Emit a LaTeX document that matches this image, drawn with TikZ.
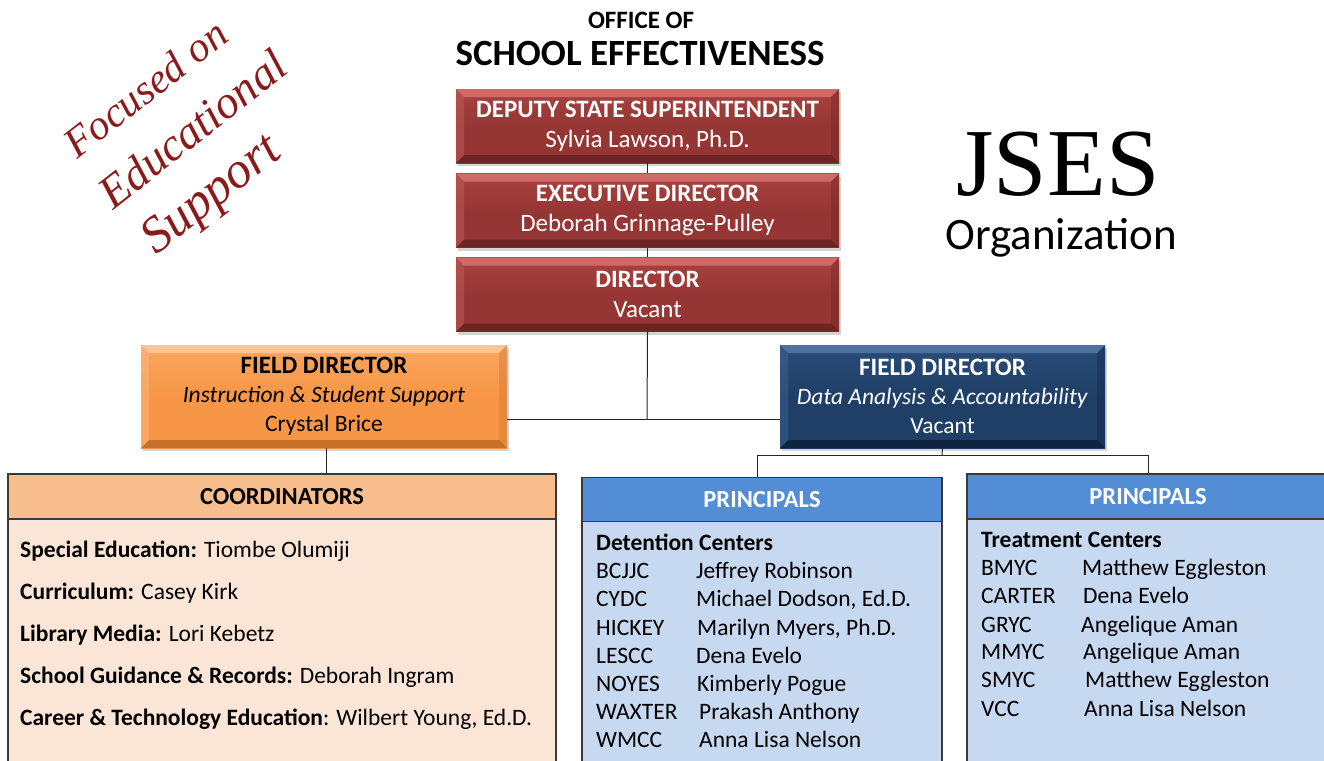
\documentclass[tikz,border=0pt]{standalone}
\usepackage{fontspec}
\setmainfont{Carlito}
\newfontfamily\jsesfont{Liberation Serif}
\usetikzlibrary{shadows}
\definecolor{redmid}{HTML}{963634}
\definecolor{redtop}{HTML}{A8423F}
\definecolor{redlt}{HTML}{CF6A68}
\definecolor{reddk}{HTML}{6E2423}
\definecolor{orgmid}{HTML}{F79646}
\definecolor{orgtop}{HTML}{F9A660}
\definecolor{orglt}{HTML}{FBC597}
\definecolor{orgdk}{HTML}{C8702A}
\definecolor{navmid}{HTML}{1F3F66}
\definecolor{navtop}{HTML}{294C78}
\definecolor{navlt}{HTML}{4D72A0}
\definecolor{navdk}{HTML}{0F2440}
\definecolor{cohead}{HTML}{F8BE8E}
\definecolor{cobody}{HTML}{FBE5D6}
\definecolor{prhead}{HTML}{538DD5}
\definecolor{prbody}{HTML}{C6D9F1}
\definecolor{scriptred}{HTML}{8B1A1A}
\definecolor{edge}{HTML}{3A3A3A}
\tikzset{
  bevel/.style n args={4}{top color=#2, bottom color=#1, middle color=#1,
    path picture={
      \fill[#3] (path picture bounding box.north west) -- (path picture bounding box.north east)
        -- ([shift={(-8pt,-8pt)}]path picture bounding box.north east)
        -- ([shift={(8pt,-8pt)}]path picture bounding box.north west) -- cycle;
      \fill[#4] (path picture bounding box.south west) -- (path picture bounding box.south east)
        -- ([shift={(-8pt,8pt)}]path picture bounding box.south east)
        -- ([shift={(8pt,8pt)}]path picture bounding box.south west) -- cycle;
      \fill[#3,opacity=0.35] (path picture bounding box.north west) -- (path picture bounding box.south west)
        -- ([shift={(8pt,8pt)}]path picture bounding box.south west)
        -- ([shift={(8pt,-8pt)}]path picture bounding box.north west) -- cycle;
      \fill[#4,opacity=0.35] (path picture bounding box.north east) -- (path picture bounding box.south east)
        -- ([shift={(-8pt,8pt)}]path picture bounding box.south east)
        -- ([shift={(-8pt,-8pt)}]path picture bounding box.north east) -- cycle;
    }},
  boxshadow/.style={drop shadow={opacity=0.35, shadow xshift=2pt, shadow yshift=-3pt}},
  redbox/.style={rectangle, inner sep=0pt, minimum width=383pt, minimum height=74pt,
    align=center, text=white, font=\fontsize{25}{30}\selectfont,
    bevel={redmid}{redtop}{redlt}{reddk}, boxshadow},
  orgbox/.style={rectangle, inner sep=0pt, minimum width=366pt, minimum height=103pt,
    align=center, text=black, font=\fontsize{23.5}{29}\selectfont,
    bevel={orgmid}{orgtop}{orglt}{orgdk}, boxshadow},
  navbox/.style={rectangle, inner sep=0pt, minimum width=325pt, minimum height=103pt,
    align=center, text=white, font=\fontsize{23.5}{29}\selectfont,
    bevel={navmid}{navtop}{navlt}{navdk}, boxshadow},
  headbox/.style={rectangle, inner sep=0pt, draw=edge, line width=1.3pt,
    font=\bfseries\fontsize{24.5}{28}\selectfont},
  bodybox/.style={rectangle, inner sep=0pt, draw=edge, line width=1.3pt},
  item/.style={anchor=base west, inner sep=0pt, font=\fontsize{23.5}{27}\selectfont},
  conn/.style={draw=black!85, line width=1pt},
  scripttext/.style={text=scriptred, inner sep=0pt, align=center}
}
\begin{document}
\begin{tikzpicture}[x=1pt,y=-1pt]
\useasboundingbox (0,0) rectangle (1324,760);
\clip (0,0) rectangle (1324,760);

% title
\node[font=\bfseries\fontsize{25}{29}\selectfont, inner sep=0pt] (t1) at (641,20) {OFFICE OF};
\node[font=\bfseries\fontsize{37}{42}\selectfont, inner sep=0pt] (t2) at (640,53) {SCHOOL EFFECTIVENESS};

% script slogan (one rotated node, three lines)
\node[scripttext, rotate=38, font=\jsesfont\itshape\fontsize{46}{62}\selectfont] (slogan) at (196,134)
  {{\fontsize{42}{62}\selectfont Focused on}\hspace*{24pt}\\Educational\\{\fontsize{51}{62}\selectfont Support}\hspace*{50pt}};

% JSES
\node[font=\jsesfont\fontsize{96}{96}\selectfont, anchor=base, inner sep=0pt] (jses) at (1058,195) {JSES};
\node[font=\fontsize{45}{48}\selectfont, anchor=base, inner sep=0pt] (org) at (1061,249) {Organization};

% junction coordinates
\coordinate (j1) at (647,419);
\coordinate (bus) at (942,455);
\coordinate (b1) at (757,455);
\coordinate (b2) at (1148,455);

% red boxes
\node[redbox] (dep) at (647.5,126) {\textbf{DEPUTY STATE SUPERINTENDENT}\\Sylvia Lawson, Ph.D.};
\node[redbox] (exe) at (647.5,210.5) {\textbf{EXECUTIVE DIRECTOR}\\Deborah Grinnage-Pulley};
\node[redbox] (dir) at (647.5,294.5) {\textbf{DIRECTOR}\\Vacant};

% field directors
\node[orgbox] (fdl) at (324,396.5) {{\bfseries\fontsize{25}{29}\selectfont FIELD DIRECTOR}\\\textit{Instruction \& Student Support}\\Crystal Brice};
\node[navbox] (fdr) at (942.5,396.5) {{\bfseries\fontsize{25}{29}\selectfont FIELD DIRECTOR}\\\textit{Data Analysis \& Accountability}\\Vacant};

% lower boxes
\node[bodybox, fill=cobody, minimum width=548pt, minimum height=262pt] (cb) at (282,650) {};
\node[headbox, fill=cohead, minimum width=548pt, minimum height=45pt] (ch) at (282,496.5) {COORDINATORS};
\node[bodybox, fill=prbody, minimum width=360pt, minimum height=260pt] (p1b) at (762,651) {};
\node[headbox, fill=prhead, text=white, minimum width=360pt, minimum height=44pt] (p1h) at (762,499.5) {PRINCIPALS};
\node[bodybox, fill=prbody, minimum width=362pt, minimum height=262pt] (p2b) at (1148,650) {};
\node[headbox, fill=prhead, text=white, minimum width=362pt, minimum height=45pt] (p2h) at (1148,496.5) {PRINCIPALS};

% connectors
\draw[conn] (dep.south) -- (exe.north);
\draw[conn] (exe.south) -- (dir.north);
\draw[conn] (dir.south) -- (j1);
\draw[conn] (fdl.east |- j1) -- (fdr.west |- j1);
\draw[conn] ([xshift=2pt]fdl.south) -- ([xshift=2pt]fdl.south |- ch.north);
\draw[conn] (fdr.south) -- (bus);
\draw[conn] (b1) -- (b2);
\draw[conn] (b1) -- (b1 |- p1h.north);
\draw[conn] (b2) -- (b2 |- p2h.north);

% coordinators list
\node[item] (c1) at (20,557) {\textbf{Special Education:} Tiombe Olumiji};
\node[item] (c2) at (20,599) {\textbf{Curriculum:} Casey Kirk};
\node[item] (c3) at (20,641) {\textbf{Library Media:} Lori Kebetz};
\node[item] (c4) at (20,683) {\textbf{School Guidance \& Records:} Deborah Ingram};
\node[item] (c5) at (20,725) {\textbf{Career \& Technology Education}: Wilbert Young, Ed.D.};

% detention centers
\node[item] (d0) at (596,550) {\textbf{Detention Centers}};
\node[item] (d1a) at (596,578) {BCJJC};  \node[item] (d1b) at (696,578) {Jeffrey Robinson};
\node[item] (d2a) at (596,606) {CYDC};   \node[item] (d2b) at (696,606) {Michael Dodson, Ed.D.};
\node[item] (d3a) at (596,635) {HICKEY}; \node[item] (d3b) at (697,635) {Marilyn Myers, Ph.D.};
\node[item] (d4a) at (596,663) {LESCC};  \node[item] (d4b) at (696,663) {Dena Evelo};
\node[item] (d5a) at (596,691) {NOYES};  \node[item] (d5b) at (697,691) {Kimberly Pogue};
\node[item] (d6a) at (596,719) {WAXTER}; \node[item] (d6b) at (699,719) {Prakash Anthony};
\node[item] (d7a) at (596,747) {WMCC};   \node[item] (d7b) at (699,747) {Anna Lisa Nelson};

% treatment centers
\node[item] (e0) at (981,547) {\textbf{Treatment Centers}};
\node[item] (e1a) at (981,575) {BMYC};   \node[item] (e1b) at (1082,575) {Matthew Eggleston};
\node[item] (e2a) at (981,603) {CARTER}; \node[item] (e2b) at (1083,603) {Dena Evelo};
\node[item] (e3a) at (981,632) {GRYC};   \node[item] (e3b) at (1081,632) {Angelique Aman};
\node[item] (e4a) at (981,659) {MMYC};   \node[item] (e4b) at (1083,659) {Angelique Aman};
\node[item] (e5a) at (981,687) {SMYC};   \node[item] (e5b) at (1085,687) {Matthew Eggleston};
\node[item] (e6a) at (981,716) {VCC};    \node[item] (e6b) at (1084,716) {Anna Lisa Nelson};
\end{tikzpicture}
\end{document}
